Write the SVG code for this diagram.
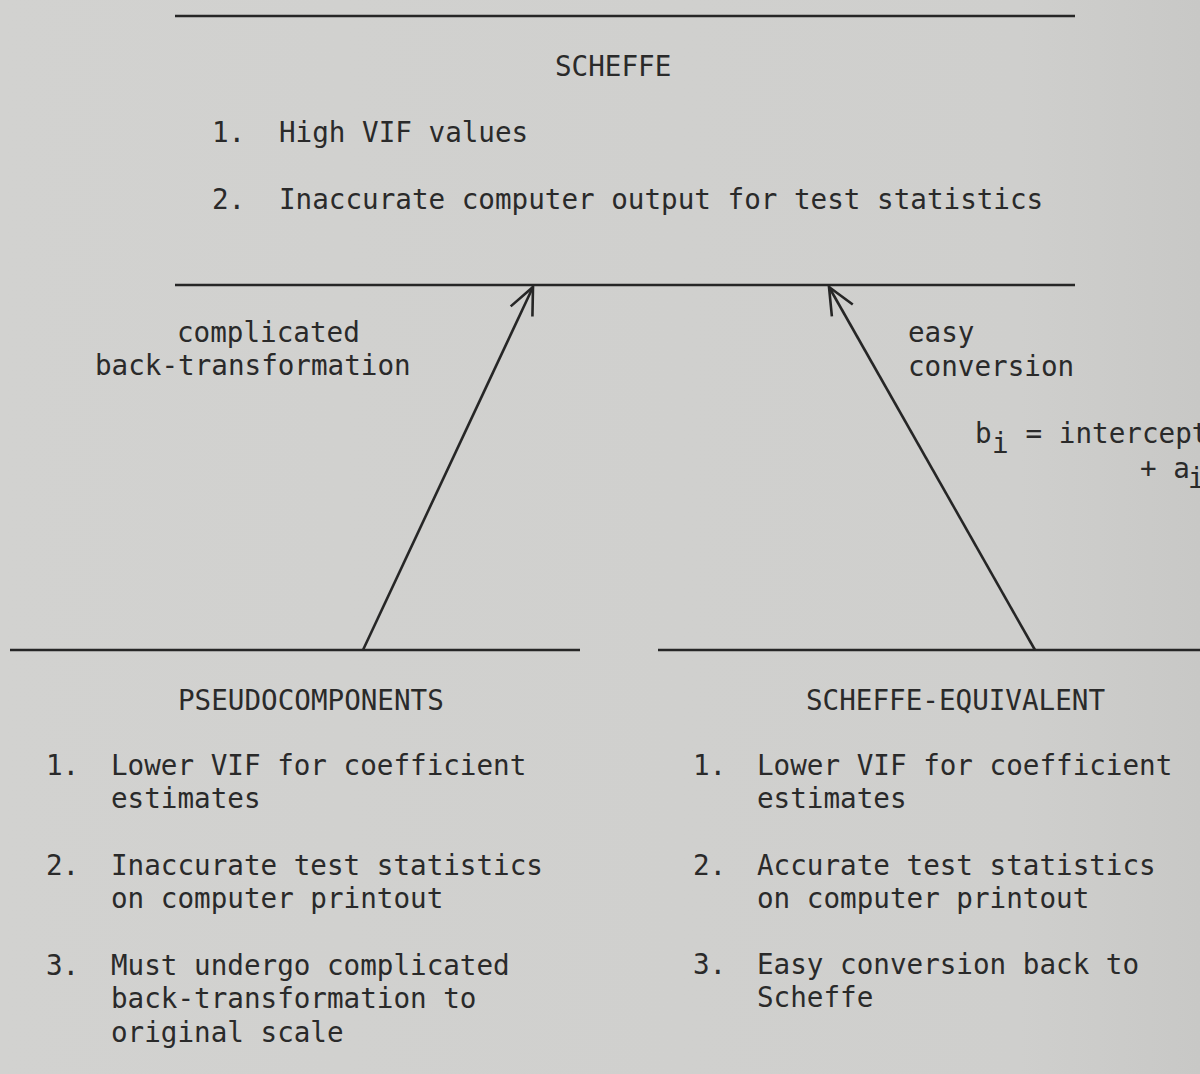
<svg xmlns="http://www.w3.org/2000/svg" width="1200" height="1074" viewBox="0 0 1200 1074">
<style>
  .t { font-family: "DejaVu Sans Mono", "Liberation Mono", monospace; font-size: 27.6px; fill: #2a2a2a; }
  .rule { stroke: #262626; stroke-width: 2.4; fill: none; }
  .conn { stroke: #262626; stroke-width: 2.6; fill: none; }
</style>
<defs>
  <linearGradient id="bg" x1="0" y1="0" x2="1" y2="0">
    <stop offset="0" stop-color="#d2d2d0"/>
    <stop offset="0.85" stop-color="#cfcfcd"/>
    <stop offset="1" stop-color="#c8c8c6"/>
  </linearGradient>
  <marker id="open" markerUnits="userSpaceOnUse" viewBox="-32 -16 36 32" markerWidth="36" markerHeight="32" refX="0" refY="0" orient="auto">
    <path d="M -27,-12 L 0,0 L -27,12" fill="none" stroke="#262626" stroke-width="2.6" stroke-linejoin="miter"/>
  </marker>
</defs>
<rect x="0" y="0" width="1200" height="1074" fill="url(#bg)"/>

<g id="scheffe">
  <line class="rule" x1="175" y1="16" x2="1075" y2="16"/>
  <text class="t" x="555" y="76">SCHEFFE</text>
  <text class="t" x="212" y="142">1.</text>
  <text class="t" x="279" y="142">High VIF values</text>
  <text class="t" x="212" y="209">2.</text>
  <text class="t" x="279" y="209">Inaccurate computer output for test statistics</text>
  <line class="rule" x1="175" y1="285" x2="1075" y2="285"/>
</g>

<g id="pseudocomponents">
  <line class="rule" x1="10" y1="650" x2="580" y2="650"/>
  <text class="t" x="178" y="710">PSEUDOCOMPONENTS</text>
  <text class="t" x="46" y="775">1.</text>
  <text class="t" x="111" y="775">Lower VIF for coefficient</text>
  <text class="t" x="111" y="808">estimates</text>
  <text class="t" x="46" y="875">2.</text>
  <text class="t" x="111" y="875">Inaccurate test statistics</text>
  <text class="t" x="111" y="908">on computer printout</text>
  <text class="t" x="46" y="975">3.</text>
  <text class="t" x="111" y="975">Must undergo complicated</text>
  <text class="t" x="111" y="1008">back-transformation to</text>
  <text class="t" x="111" y="1042">original scale</text>
</g>

<g id="scheffe-equivalent">
  <line class="rule" x1="658" y1="650" x2="1200" y2="650"/>
  <text class="t" x="806" y="710">SCHEFFE-EQUIVALENT</text>
  <text class="t" x="693" y="775">1.</text>
  <text class="t" x="757" y="775">Lower VIF for coefficient</text>
  <text class="t" x="757" y="808">estimates</text>
  <text class="t" x="693" y="875">2.</text>
  <text class="t" x="757" y="875">Accurate test statistics</text>
  <text class="t" x="757" y="908">on computer printout</text>
  <text class="t" x="693" y="974">3.</text>
  <text class="t" x="757" y="974">Easy conversion back to</text>
  <text class="t" x="757" y="1007">Scheffe</text>
</g>

<g id="connectors">
  <line class="conn" x1="363" y1="650" x2="533" y2="287" marker-end="url(#open)"/>
  <line class="conn" x1="1035" y1="650" x2="829" y2="287" marker-end="url(#open)"/>
  <g id="label-left">
    <text class="t" x="177" y="342">complicated</text>
    <text class="t" x="95" y="375">back-transformation</text>
  </g>
  <g id="label-right">
    <text class="t" x="908" y="342">easy</text>
    <text class="t" x="908" y="376">conversion</text>
    <text class="t" x="975" y="443">b<tspan x="992" y="453">i</tspan><tspan x="1009" y="443" xml:space="preserve"> = intercept</tspan></text>
    <text class="t" xml:space="preserve" x="1140" y="478">+ a<tspan x="1188" y="488">i</tspan></text>
  </g>
</g>
</svg>
